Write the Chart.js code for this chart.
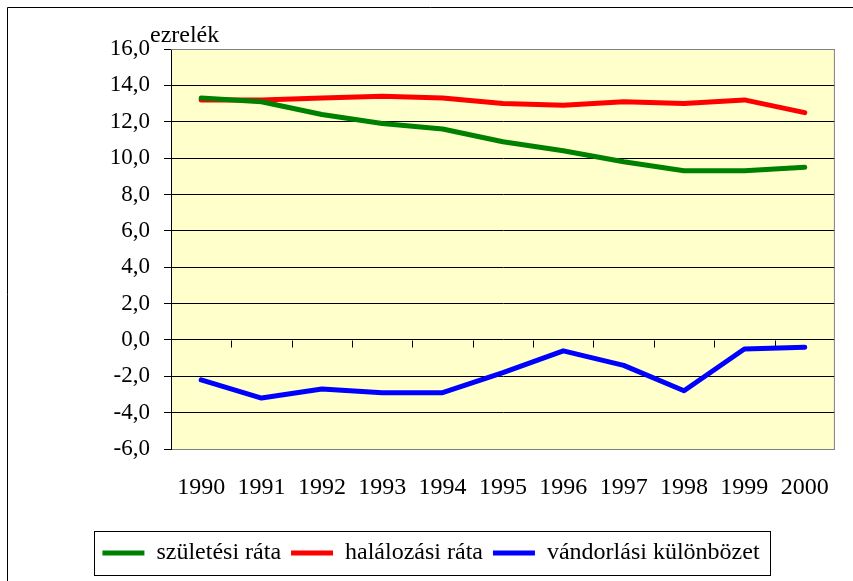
<!DOCTYPE html>
<html>
<head>
<meta charset="utf-8">
<script src="https://cdn.jsdelivr.net/npm/chart.js@4"></script>
<style>
  html, body { margin: 0; padding: 0; background: #fff; }
  #wrap { width: 853px; height: 581px; }
</style>
</head>
<body>
<div id="wrap"><canvas id="rateChart"></canvas></div>
<script>
// Data
const years = ['1990', '1991', '1992', '1993', '1994', '1995', '1996', '1997', '1998', '1999', '2000'];
const birthRate = [13.3, 13.1, 12.4, 11.9, 11.6, 10.9, 10.4, 9.8, 9.3, 9.3, 9.5];
const deathRate = [13.2, 13.2, 13.3, 13.4, 13.3, 13.0, 12.9, 13.1, 13.0, 13.2, 12.5];
const migration = [-2.2, -3.2, -2.7, -2.9, -2.9, -1.8, -0.6, -1.4, -2.8, -0.5, -0.4];
const yMin = -6, yMax = 16, yStep = 2;
const unitLabel = 'ezrelék';

const serif = '"Liberation Serif", "Times New Roman", serif';

// yellow plot background, outer frame, grey plot border, x ticks on the 0 line
const decor = {
    id: 'decor',
    beforeDraw(chart) {
        const {ctx, chartArea: a} = chart;
        ctx.save();
        ctx.fillStyle = '#FFFFCC';
        ctx.fillRect(a.left, a.top, a.right - a.left, a.bottom - a.top);
        ctx.strokeStyle = '#000';
        ctx.lineWidth = 1;
        ctx.beginPath();
        ctx.moveTo(7.5, chart.height);
        ctx.lineTo(7.5, 7.5);
        ctx.lineTo(chart.width, 7.5);
        ctx.stroke();
        ctx.restore();
    },
    beforeDatasetsDraw(chart) {
        const {ctx, chartArea: a} = chart;
        const xs = chart.scales.x, ys = chart.scales.y;
        ctx.save();
        ctx.strokeStyle = '#808080';
        ctx.lineWidth = 1;
        ctx.beginPath();
        ctx.moveTo(a.left, a.top + 0.5);
        ctx.lineTo(a.right - 0.5, a.top + 0.5);
        ctx.lineTo(a.right - 0.5, a.bottom);
        ctx.stroke();
        // tick marks between categories on the zero line
        const y0 = Math.round(ys.getPixelForValue(0)) + 0.5;
        ctx.strokeStyle = '#000';
        ctx.beginPath();
        for (let i = 1; i < years.length; i++) {
            const px = Math.round((xs.getPixelForValue(i - 1) + xs.getPixelForValue(i)) / 2) + 0.5;
            ctx.moveTo(px, y0);
            ctx.lineTo(px, y0 + 7);
        }
        ctx.stroke();
        ctx.restore();
    },
    afterDraw(chart) {
        const {ctx, chartArea: a} = chart;
        ctx.save();
        ctx.fillStyle = '#000';
        ctx.font = '24px ' + serif;
        ctx.textAlign = 'left';
        ctx.textBaseline = 'alphabetic';
        ctx.fillText(unitLabel, a.left - 21, a.top - 7);
        // box round the legend
        const hb = chart.legend.legendHitBoxes;
        if (hb && hb.length) {
            const last = hb[hb.length - 1];
            const l = Math.round(hb[0].left - 8) + 0.5;
            const r = Math.round(last.left + last.width + 10) + 0.5;
            const t = Math.round(hb[0].top - 10) + 0.5;
            const b = Math.round(hb[0].top + hb[0].height + 10) + 0.5;
            ctx.strokeStyle = '#000';
            ctx.lineWidth = 1;
            ctx.strokeRect(l, t, r - l, b - t);
        }
        ctx.restore();
    }
};

const ctx = document.getElementById('rateChart').getContext('2d');
const rateChart = new Chart(ctx, {
    type: 'line',
    data: {
        labels: years,
        datasets: [
            {label: 'születési ráta', data: birthRate, borderColor: '#008000', backgroundColor: '#008000'},
            {label: 'halálozási ráta', data: deathRate, borderColor: '#FF0000', backgroundColor: '#FF0000'},
            {label: 'vándorlási különbözet', data: migration, borderColor: '#0000FF', backgroundColor: '#0000FF'}
        ]
    },
    options: {
        responsive: true,
        maintainAspectRatio: false,
        animation: false,
        layout: {padding: {top: 49, left: 15, right: 6, bottom: 6}},
        datasets: {
            line: {
                borderWidth: 5,
                borderCapStyle: 'round',
                borderJoinStyle: 'round',
                pointRadius: 0,
                pointHoverRadius: 0,
                tension: 0,
                fill: false
            }
        },
        scales: {
            x: {
                offset: true,
                grid: {display: false, drawTicks: false},
                border: {display: true, color: '#808080', width: 1},
                ticks: {
                    color: '#000',
                    font: {family: serif, size: 24},
                    padding: 24,
                    maxRotation: 0,
                    autoSkip: false
                },
                afterFit(scale) { scale.height = 82; }
            },
            y: {
                min: yMin,
                max: yMax,
                grid: {
                    color: c => (c.tick && (c.tick.value === yMax || c.tick.value === yMin)) ? '#808080' : '#000',
                    lineWidth: 1,
                    tickLength: 7,
                    tickColor: '#000'
                },
                border: {display: true, color: '#000', width: 1},
                ticks: {
                    stepSize: yStep,
                    color: '#000',
                    padding: 14,
                    font: {family: serif, size: 23},
                    callback: v => v.toFixed(1).replace('.', ',')
                },
                afterFit(scale) { scale.width = 156; }
            }
        },
        plugins: {
            legend: {
                position: 'bottom',
                labels: {
                    color: '#000',
                    font: {family: serif, size: 24},
                    usePointStyle: true,
                    pointStyle: 'line',
                    pointStyleWidth: 42,
                    padding: 10
                }
            },
            tooltip: {enabled: false}
        }
    },
    plugins: [decor]
});
</script>
</body>
</html>
